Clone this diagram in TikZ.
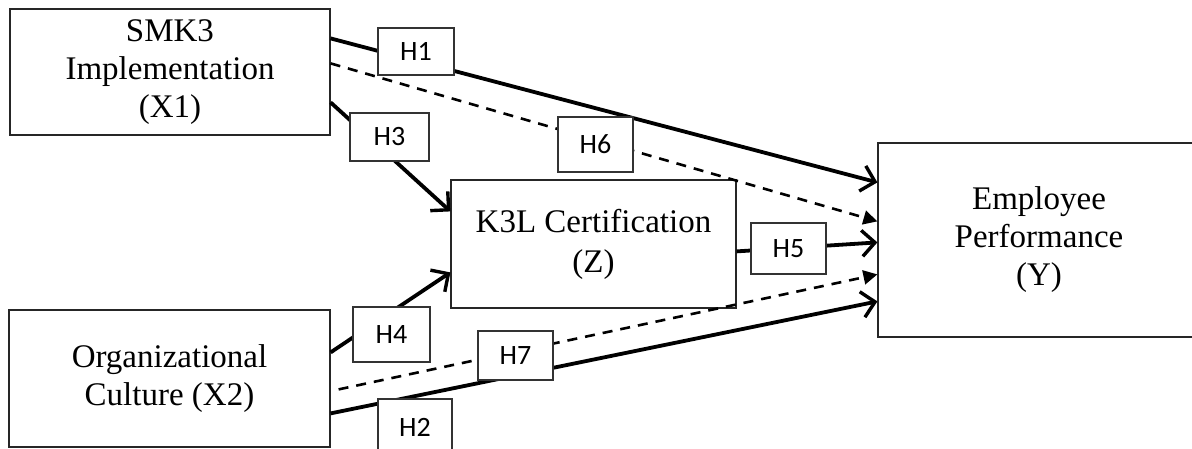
\documentclass[tikz,border=0pt]{standalone}
\usepackage{fontspec}
\setmainfont{Liberation Serif}
\newfontfamily\hfont{Carlito}
\usetikzlibrary{arrows.meta}

\tikzset{
  varbox/.style={draw=black!85, line width=1.2pt, fill=white, align=center,
    inner sep=0pt, font=\fontsize{33}{38}\selectfont},
  hypbox/.style={draw=black!80, line width=1.1pt, fill=white, inner sep=0pt,
    font=\hfont\fontsize{28}{30}\selectfont},
  effect/.style={line width=3.8pt, -{Straight Barb[length=13pt,width=26pt,line width=3.4pt]}},
  mediated/.style={line width=2.6pt, dash pattern=on 10pt off 8pt,
    -{Triangle[length=14pt,width=14pt]}}
}

\begin{document}
\begin{tikzpicture}[x=1pt,y=-1pt]
  \useasboundingbox (0,0) rectangle (1192,449);
  \clip (0,0) rectangle (1192,449);

  % variables
  \node[varbox, minimum width=320pt, minimum height=126pt] (X1) at (170,72)
    {SMK3\\Implementation\\(X1)};
  \node[varbox, minimum width=321pt, minimum height=137pt] (X2) at (169.5,378.5)
    {Organizational\\Culture (X2)};
  \node[varbox, minimum width=285pt, minimum height=128pt,
    font=\fontsize{33}{40}\selectfont] (Z) at (593.5,244)
    {K3L Certification\\(Z)};
  \node[varbox, minimum width=322pt, minimum height=194pt] (Y) at (1039,240)
    {Employee\\Performance\\(Y)};

  % direct and mediated paths
  \draw[effect] ([yshift=-30pt]X1.north east) -- ([yshift=-40pt]Y.north west);
  \draw[mediated] ([yshift=-55pt]X1.north east) -- ([yshift=-79pt]Y.north west);
  \draw[effect] ([yshift=-94pt]X1.north east) -- ([yshift=-32pt]Z.north west);
  \draw[effect] ([yshift=-72pt]Z.north east) -- ([yshift=-100pt]Y.north west);
  \draw[effect] ([yshift=-43pt]X2.north east) -- ([yshift=-93pt]Z.north west);
  \draw[mediated] ([xshift=8pt,yshift=-80pt]X2.north east) -- ([yshift=-132pt]Y.north west);
  \draw[effect] ([yshift=-104pt]X2.north east) -- ([yshift=-159pt]Y.north west);

  % hypothesis labels
  \node[hypbox, minimum width=76pt, minimum height=47pt] (h1) at (416,51.5) {H1};
  \node[hypbox, minimum width=79pt, minimum height=48pt] (h3) at (389.5,137) {H3};
  \node[hypbox, minimum width=75pt, minimum height=55pt] (h6) at (595.5,144.5) {H6};
  \node[hypbox, minimum width=75pt, minimum height=51pt] (h5) at (788.5,248.5) {H5};
  \node[hypbox, minimum width=77pt, minimum height=55pt] (h4) at (391.5,334.5) {H4};
  \node[hypbox, minimum width=75pt, minimum height=49pt] (h7) at (515.5,355.5) {H7};
  \node[hypbox, minimum width=74pt, minimum height=62pt, text depth=0pt] (h2) at (415,430)
    {\raisebox{6pt}{H2}};
\end{tikzpicture}
\end{document}
